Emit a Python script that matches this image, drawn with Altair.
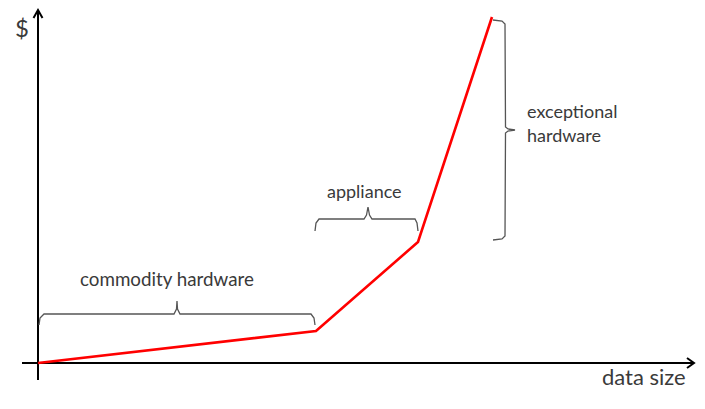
import altair as alt
import pandas as pd

# cost curve (data units: origin at axis crossing)
curve_x = [0, 278, 380, 454]
curve_y = [0, 32, 121, 346]

# axes with arrowheads
axis_id = ["x", "x", "y", "y"]
axis_px = [-16, 656, 0, 0]
axis_py = [0, 0, -17, 353]
arrow_id = ["ax", "ax", "ax", "ay", "ay", "ay"]
arrow_px = [649, 656, 649, -4.5, 0, 4.5]
arrow_py = [5, 0, -5, 345, 353, 345]

# braces
brace_id = ["c"] * 11 + ["a"] * 11 + ["e"] * 11
brace_px = [1, 2, 6, 136, 138.5, 139, 139.5, 142, 273, 276, 277,
            277, 278, 281, 326, 328.5, 330, 331.5, 334, 377, 379, 380,
            455, 464, 467, 467.5, 470, 477, 470, 467.5, 467, 464, 455]
brace_py = [38, 45, 49, 49, 54, 62, 54, 49, 49, 45, 38,
            132, 140, 144, 144, 148, 156, 148, 144, 144, 140, 132,
            343, 342, 339, 236, 234, 233, 232, 230, 127, 124, 123]

# labels
label_text = ["$", "data size", "commodity hardware", "appliance", "exceptional", "hardware"]
label_x = [-23, 564, 42, 289, 489, 489]
label_y = [326, -22, 77, 165, 245, 221]
label_size = [24, 22, 18.8, 18, 18, 18]

X = alt.Scale(domain=[-38, 667], nice=False, zero=False)
Y = alt.Scale(domain=[-46, 363], nice=False, zero=False)

curve = pd.DataFrame({"x": curve_x, "y": curve_y, "o": range(len(curve_x))})
axes = pd.DataFrame({"g": axis_id, "x": axis_px, "y": axis_py, "o": range(len(axis_id))})
arrows = pd.DataFrame({"g": arrow_id, "x": arrow_px, "y": arrow_py, "o": range(len(arrow_id))})
braces = pd.DataFrame({"g": brace_id, "x": brace_px, "y": brace_py, "o": range(len(brace_id))})
labels = pd.DataFrame({"t": label_text, "x": label_x, "y": label_y, "s": label_size})

xe = alt.X("x:Q", scale=X, axis=None)
ye = alt.Y("y:Q", scale=Y, axis=None)

axes_l = alt.Chart(axes).mark_line(color="black", strokeWidth=2).encode(
    x=xe, y=ye, detail="g:N", order="o:Q")
arrows_l = alt.Chart(arrows).mark_line(color="black", strokeWidth=2).encode(
    x=xe, y=ye, detail="g:N", order="o:Q")
braces_l = alt.Chart(braces).mark_line(color="#555555", strokeWidth=1.3).encode(
    x=xe, y=ye, detail="g:N", order="o:Q")
curve_l = alt.Chart(curve).mark_line(color="#ff0000", strokeWidth=2.6).encode(
    x=xe, y=ye, order="o:Q")
text_l = alt.Chart(labels).mark_text(align="left", baseline="alphabetic",
                                     font="Lato", color="#3a3a3a").encode(
    x=xe, y=ye, text="t:N", size=alt.Size("s:Q", scale=None, legend=None))

chart = alt.layer(axes_l, arrows_l, braces_l, curve_l, text_l).properties(
    width=705, height=409, padding=0, autosize=alt.AutoSizeParams(type="none"),
    background="white"
).configure_view(stroke=None)

chart.save("out.html", embed_options={"renderer": "svg", "actions": False})
